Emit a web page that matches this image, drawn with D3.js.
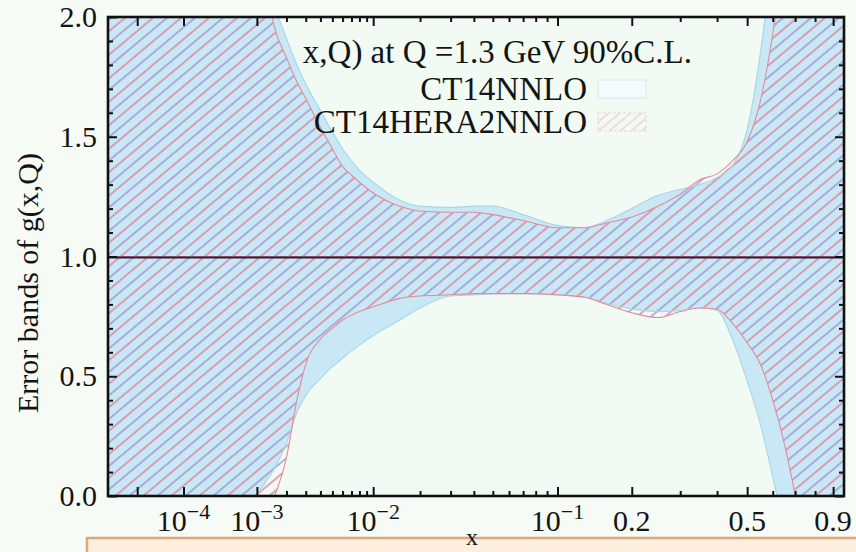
<!DOCTYPE html>
<html><head><meta charset="utf-8">
<script src="https://cdn.jsdelivr.net/npm/d3@7"></script>
<style>
html,body{margin:0;padding:0;background:#f6fbf6;}
svg{display:block;}
text{font-family:"Liberation Serif","Times New Roman",serif;fill:#141414;}
</style></head><body>
<svg id="chart" width="856" height="552"></svg>
<script>
// Momentum fraction grid and relative error bands of the gluon PDF at Q = 1.3 GeV
const xGrid = [1e-6, 1e-5, 1e-4, 3e-4, 5e-4, 7e-4, 1e-3, 1.2e-3, 1.5e-3, 2e-3, 2.5e-3, 3e-3, 4e-3, 5e-3, 6e-3, 7e-3, 8e-3,
  1e-2, 1.5e-2, 2e-2, 3e-2, 4e-2, 5e-2, 7e-2, 0.1, 0.13, 0.16, 0.2, 0.25, 0.3, 0.35, 0.4, 0.45, 0.5, 0.55, 0.6, 0.65, 0.7, 0.8, 0.9, 0.965];
const ct14Upper = [5.0, 4.2, 3.3, 2.8, 2.55, 2.4, 2.22, 2.15, 2.05, 1.91, 1.80, 1.72, 1.61, 1.52, 1.45, 1.40, 1.36,
  1.31, 1.235, 1.21, 1.205, 1.21, 1.21, 1.175, 1.13, 1.12, 1.15, 1.2, 1.255, 1.28, 1.30, 1.33, 1.38, 1.53, 1.85, 2.3, 3.0, 3.8, 5.0, 6.0, 7.0];
const ct14Lower = [-3, -2.5, -1.5, -0.9, -0.55, -0.3, 0.0, 0.05, 0.11, 0.22, 0.35, 0.42, 0.49, 0.54, 0.575, 0.605, 0.63,
  0.67, 0.735, 0.785, 0.835, 0.84, 0.845, 0.845, 0.84, 0.83, 0.805, 0.78, 0.77, 0.775, 0.785, 0.775, 0.65, 0.48, 0.30, 0.08, -0.15, -0.5, -1.2, -2.0, -2.5];
const hera2Upper = [6.0, 4.8, 3.6, 3.0, 2.7, 2.5, 2.35, 2.2, 1.97, 1.83, 1.73, 1.66, 1.54, 1.45, 1.375, 1.34, 1.31,
  1.265, 1.21, 1.19, 1.185, 1.185, 1.175, 1.15, 1.12, 1.12, 1.14, 1.165, 1.21, 1.26, 1.32, 1.345, 1.40, 1.48, 1.65, 1.93, 2.3, 2.9, 4.0, 5.0, 6.0];
const hera2Lower = [-4, -3, -1.6, -0.8, -0.45, -0.25, -0.15, -0.09, -0.01, 0.16, 0.40, 0.55, 0.655, 0.70, 0.735, 0.755, 0.77,
  0.79, 0.825, 0.835, 0.84, 0.845, 0.845, 0.845, 0.84, 0.83, 0.80, 0.765, 0.745, 0.77, 0.785, 0.78, 0.72, 0.64, 0.55, 0.40, 0.22, 0.0, -0.6, -1.3, -1.8];

// Axis ticks and labels
const xMajorTicks = [1e-5, 1e-4, 1e-3, 1e-2, 0.1, 0.2, 0.5, 0.9];
const xMinorTicks = [2e-3, 3e-3, 4e-3, 5e-3, 6e-3, 7e-3, 8e-3, 9e-3,
  2e-2, 3e-2, 4e-2, 5e-2, 6e-2, 7e-2, 8e-2, 9e-2, 0.3, 0.4, 0.6, 0.7, 0.8];
const xLabelValues = [1e-4, 1e-3, 1e-2, 0.1, 0.2, 0.5, 0.9];
const xLabelBases = ["10", "10", "10", "10", "0.2", "0.5", "0.9"];
const xLabelExponents = ["\u22124", "\u22123", "\u22122", "\u22121", "", "", ""];
const yMajorTicks = [0, 0.5, 1.0, 1.5, 2.0];
const yMinorTicks = [0.1, 0.2, 0.3, 0.4, 0.6, 0.7, 0.8, 0.9, 1.1, 1.2, 1.3, 1.4, 1.6, 1.7, 1.8, 1.9];
const titleText = "x,Q) at Q =1.3 GeV 90%C.L.";
const legendLabels = ["CT14NNLO", "CT14HERA2NNLO"];
const yAxisTitle = "Error bands of g(x,Q)";
const xAxisTitle = "x";

const svg = d3.select("#chart");
const L = 108, R = 844, T = 17, B = 496;

const x = d3.scalePow().exponent(0.2).domain([1e-6, 0.965]).range([L, R]);
const y = d3.scaleLinear().domain([0, 2]).range([B, T]);

// Hatch pattern for the CT14HERA2NNLO band
const defs = svg.append("defs");
const pat = defs.append("pattern").attr("id", "hatch")
  .attr("patternUnits", "userSpaceOnUse").attr("width", 18).attr("height", 18)
  .attr("patternTransform", "rotate(50)");
pat.append("line").attr("x1", 4).attr("x2", 4).attr("y1", -1).attr("y2", 19)
  .attr("stroke", "#e07a9c").attr("stroke-width", 1.4);
pat.append("line").attr("x1", 13).attr("x2", 13).attr("y1", -1).attr("y2", 19)
  .attr("stroke", "#9f8fcc").attr("stroke-width", 1.4);

const patL = defs.append("pattern").attr("id", "hatchLegend")
  .attr("patternUnits", "userSpaceOnUse").attr("width", 7).attr("height", 7)
  .attr("patternTransform", "rotate(50)");
patL.append("line").attr("x1", 2).attr("x2", 2).attr("y1", -1).attr("y2", 8)
  .attr("stroke", "#f0c8cc").attr("stroke-width", 1.2);

defs.append("clipPath").attr("id", "plotClip")
  .append("rect").attr("x", L).attr("y", T).attr("width", R - L).attr("height", B - T);

// Plot background
svg.append("rect").attr("x", L).attr("y", T).attr("width", R - L).attr("height", B - T)
  .attr("fill", "#f2fbf3");

// Legend title (partly covered by the bands)
svg.append("text").attr("x", 692).attr("y", 63).attr("text-anchor", "end")
  .attr("font-size", 33).text(titleText);

const idx = d3.range(xGrid.length);
const band = (lo, hi) => d3.area()
  .x(i => x(xGrid[i])).y0(i => y(lo[i])).y1(i => y(hi[i]))
  .curve(d3.curveMonotoneX)(idx);
const edge = vals => d3.line()
  .x(i => x(xGrid[i])).y(i => y(vals[i]))
  .curve(d3.curveMonotoneX)(idx);

const plot = svg.append("g").attr("clip-path", "url(#plotClip)");
plot.append("path").attr("d", band(ct14Lower, ct14Upper)).attr("fill", "#c8e8f5");
plot.append("path").attr("d", band(hera2Lower, hera2Upper)).attr("fill", "url(#hatch)");
[ct14Upper, ct14Lower].forEach(v =>
  plot.append("path").attr("d", edge(v)).attr("fill", "none").attr("stroke", "#a9d7ec").attr("stroke-width", 1.2));
[hera2Upper, hera2Lower].forEach(v =>
  plot.append("path").attr("d", edge(v)).attr("fill", "none").attr("stroke", "#e58a9c").attr("stroke-width", 1.1));

// Central value
plot.append("line").attr("x1", L).attr("x2", R).attr("y1", y(1)).attr("y2", y(1))
  .attr("stroke", "#e07a9c").attr("stroke-width", 1);
plot.append("line").attr("x1", L).attr("x2", R).attr("y1", y(1) + 1).attr("y2", y(1) + 1)
  .attr("stroke", "#2a1f30").attr("stroke-width", 1.8);

// Axes with inward ticks on all four sides
function styleAxis(g) {
  g.select(".domain").remove();
  g.selectAll(".tick line").attr("stroke", "#111").attr("stroke-width", 2);
}
svg.append("g").attr("transform", `translate(0,${B})`)
  .call(d3.axisBottom(x).tickValues(xMajorTicks).tickSize(-9).tickFormat("")).call(styleAxis);
svg.append("g").attr("transform", `translate(0,${B})`)
  .call(d3.axisBottom(x).tickValues(xMinorTicks).tickSize(-5).tickFormat("")).call(styleAxis);
svg.append("g").attr("transform", `translate(0,${T})`)
  .call(d3.axisTop(x).tickValues(xMajorTicks).tickSize(-9).tickFormat("")).call(styleAxis);
svg.append("g").attr("transform", `translate(0,${T})`)
  .call(d3.axisTop(x).tickValues(xMinorTicks).tickSize(-5).tickFormat("")).call(styleAxis);

svg.append("g").attr("transform", `translate(${L},0)`)
  .call(d3.axisLeft(y).tickValues(yMajorTicks).tickSize(-9).tickPadding(11).tickFormat(d3.format(".1f")))
  .call(styleAxis)
  .call(g => g.selectAll("text").attr("font-size", 30).attr("font-family", "Liberation Serif").attr("fill", "#141414"));
svg.append("g").attr("transform", `translate(${L},0)`)
  .call(d3.axisLeft(y).tickValues(yMinorTicks).tickSize(-5).tickFormat("")).call(styleAxis);
svg.append("g").attr("transform", `translate(${R},0)`)
  .call(d3.axisRight(y).tickValues(yMajorTicks).tickSize(-9).tickFormat("")).call(styleAxis);
svg.append("g").attr("transform", `translate(${R},0)`)
  .call(d3.axisRight(y).tickValues(yMinorTicks).tickSize(-5).tickFormat("")).call(styleAxis);

// Frame
svg.append("rect").attr("x", L).attr("y", T).attr("width", R - L).attr("height", B - T)
  .attr("fill", "none").attr("stroke", "#111").attr("stroke-width", 2.6);

// X tick labels
xLabelValues.forEach((v, i) => {
  const t = svg.append("text").attr("x", x(v)).attr("y", 531)
    .attr("text-anchor", "middle").attr("font-size", 30);
  t.append("tspan").text(xLabelBases[i]);
  if (xLabelExponents[i]) t.append("tspan").attr("dy", -12).attr("font-size", 22).text(xLabelExponents[i]);
});

// Y axis title
svg.append("text").attr("transform", "translate(38,283) rotate(-90)")
  .attr("text-anchor", "middle").attr("font-size", 30).text(yAxisTitle);

// Legend entries
const legendY = [100, 133];
legendLabels.forEach((lab, i) => {
  svg.append("text").attr("x", 587).attr("y", legendY[i]).attr("text-anchor", "end")
    .attr("font-size", 33).text(lab);
  svg.append("rect").attr("x", 598).attr("y", legendY[i] - 20).attr("width", 48).attr("height", 18)
    .attr("fill", i === 0 ? "#f4fbfd" : "url(#hatchLegend)")
    .attr("stroke", i === 0 ? "#d9ecf4" : "#efd2d2").attr("stroke-width", 1.2)
    .attr("stroke-dasharray", i === 0 ? null : "3,2");
});

// Caption box at the foot with the x axis title
svg.append("rect").attr("x", 87).attr("y", 538).attr("width", 780).attr("height", 30)
  .attr("fill", "#fdeedd").attr("stroke", "#dca57c").attr("stroke-width", 2.5);
svg.append("text").attr("x", 472).attr("y", 545).attr("text-anchor", "middle")
  .attr("font-size", 24).text(xAxisTitle);
</script>
</body></html>
